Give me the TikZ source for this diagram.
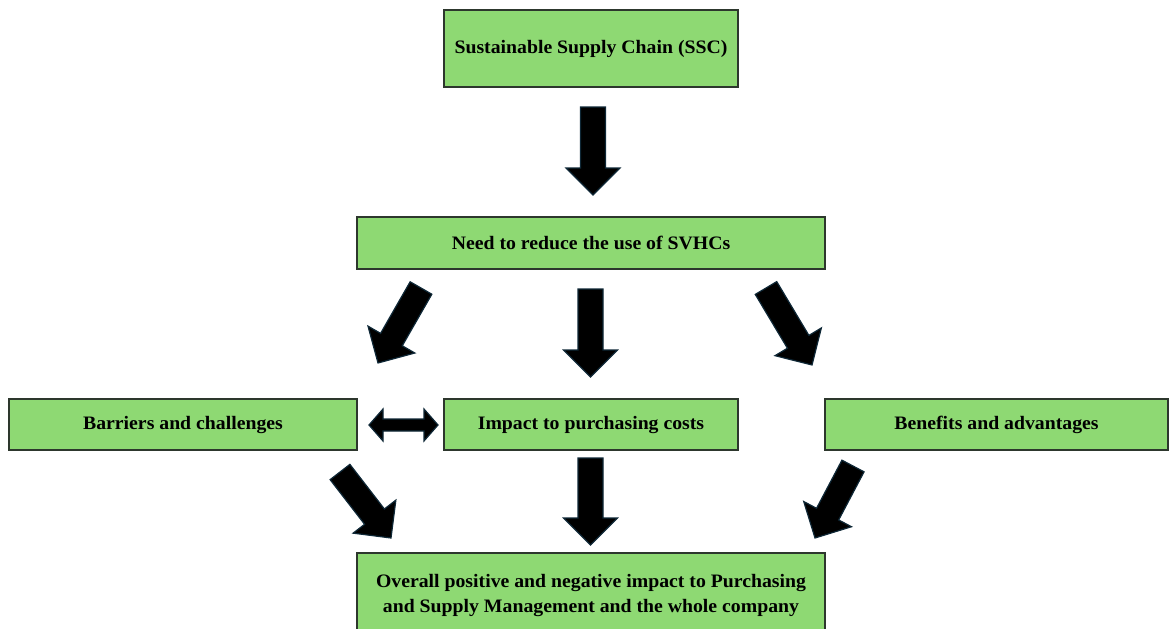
\documentclass[tikz,border=0pt]{standalone}
\usepackage{fontspec}
\setmainfont{Liberation Serif}[FakeStretch=1.04]
\usetikzlibrary{calc}
\definecolor{boxgreen}{RGB}{142,217,115}
\definecolor{boxedge}{RGB}{45,55,45}
\definecolor{arrowedge}{RGB}{15,40,55}
\tikzset{
  box/.style={draw=boxedge, line width=1.2pt, fill=boxgreen, font=\fontsize{19}{25}\selectfont\bfseries, align=center, inner sep=0pt},
  blockarrow/.style={fill=black, draw=arrowedge, line width=1.2pt, line join=miter}
}
\newcommand\blockarr[2]{%
  \coordinate (hh) at ($(#2)!27pt!(#1)$);
  \filldraw[blockarrow] ($(#1)!12.5pt!90:(#2)$) -- ($(hh)!12.5pt!90:(#2)$) -- ($(hh)!27pt!90:(#2)$) -- (#2) -- ($(hh)!27pt!-90:(#2)$) -- ($(hh)!12.5pt!-90:(#2)$) -- ($(#1)!12.5pt!-90:(#2)$) -- cycle;}
\begin{document}
\begin{tikzpicture}[x=1pt,y=-1pt]
\useasboundingbox (0,0) rectangle (1170,629);
\begin{scope}
\clip (0,0) rectangle (1170,629);
\node[box, minimum width=294pt, minimum height=77pt] (ssc) at (591,48.5) {\raisebox{-1.5pt}{Sustainable Supply Chain (SSC)}};
\node[box, minimum width=468pt, minimum height=52pt] (need) at (591,243) {\raisebox{-1pt}{Need to reduce the use of SVHCs}};
\node[box, minimum width=348pt, minimum height=51pt] (bar) at (183,424.5) {\raisebox{-2pt}{Barriers and challenges}};
\node[box, minimum width=294pt, minimum height=51pt] (imp) at (591,424.5) {\raisebox{-2pt}{Impact to purchasing costs}};
\node[box, minimum width=343pt, minimum height=51pt] (ben) at (996.5,424.5) {\raisebox{-2pt}{Benefits and advantages}};
\node[box, minimum width=468pt, minimum height=84pt] (ovr) at (591,595) {Overall positive and negative impact to Purchasing\\and Supply Management and the whole company};
\end{scope}
% arrow end points
\coordinate (a1s) at (593,107); \coordinate (a1e) at (593,195);
\coordinate (a2s) at (421,288); \coordinate (a2e) at (378,363);
\coordinate (a3s) at (590.5,289); \coordinate (a3e) at (590.5,377);
\coordinate (a4s) at (766,288); \coordinate (a4e) at (812,365);
\coordinate (a5s) at (340,472); \coordinate (a5e) at (391,538);
\coordinate (a6s) at (590.5,458); \coordinate (a6e) at (590.5,545);
\coordinate (a7s) at (853,466); \coordinate (a7e) at (815,538);
\blockarr{a1s}{a1e}
\blockarr{a2s}{a2e}
\blockarr{a3s}{a3e}
\blockarr{a4s}{a4e}
\blockarr{a5s}{a5e}
\blockarr{a6s}{a6e}
\blockarr{a7s}{a7e}
% double arrow
\coordinate (dA) at (369,425); \coordinate (dB) at (438,425);
\coordinate (hA) at ($(dA)!14pt!(dB)$); \coordinate (hB) at ($(dB)!14pt!(dA)$);
\filldraw[blockarrow] (dA) -- ($(hA)!16pt!90:(dB)$) -- ($(hA)!6pt!90:(dB)$) -- ($(hB)!6pt!-90:(dA)$) -- ($(hB)!16pt!-90:(dA)$) -- (dB) -- ($(hB)!16pt!90:(dA)$) -- ($(hB)!6pt!90:(dA)$) -- ($(hA)!6pt!-90:(dB)$) -- ($(hA)!16pt!-90:(dB)$) -- cycle;
\end{tikzpicture}
\end{document}
